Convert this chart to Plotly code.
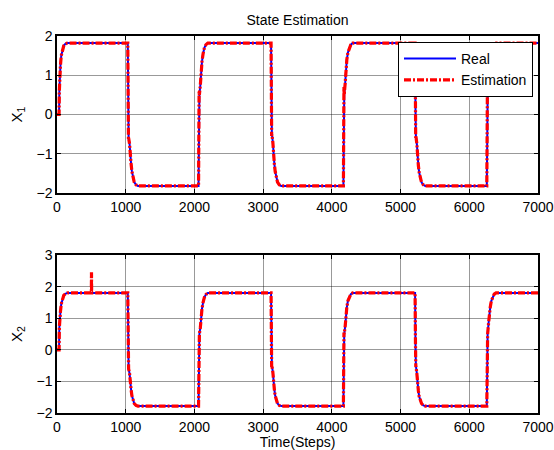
import plotly.graph_objects as go
from plotly.subplots import make_subplots

# ---------------- data ----------------
# State 1: true trajectory (time step, value)
t_x1_real = [0, 30, 34, 40, 50, 62, 78, 98, 122, 150,
             1030, 1036, 1042, 1056, 1064, 1078, 1090, 1104, 1124, 1150, 1178,
             2060, 2066, 2072, 2086, 2096, 2110, 2126, 2145, 2168, 2195,
             3115, 3121, 3127, 3141, 3149, 3163, 3175, 3189, 3209, 3235, 3263,
             4168, 4174, 4180, 4194, 4204, 4218, 4234, 4253, 4276, 4303,
             5211, 5217, 5223, 5237, 5245, 5259, 5271, 5285, 5305, 5331, 5359,
             6255, 6261, 6267, 6281, 6291, 6305, 6321, 6340, 6363, 6390,
             7000]
x1_real = [0, 0, 0.6, 1.1, 1.25, 1.5, 1.65, 1.75, 1.8, 1.82,
           1.82, 0.4, -0.6, -0.75, -1.05, -1.25, -1.45, -1.6, -1.72, -1.79, -1.82,
           -1.82, -0.2, 0.5, 0.75, 1.15, 1.35, 1.55, 1.7, 1.78, 1.82,
           1.82, 0.3, -0.5, -0.7, -1.05, -1.25, -1.45, -1.6, -1.72, -1.79, -1.82,
           -1.82, -0.1, 0.5, 0.8, 1.2, 1.4, 1.58, 1.7, 1.78, 1.82,
           1.82, 0.2, -0.55, -0.75, -1.1, -1.3, -1.48, -1.62, -1.73, -1.79, -1.82,
           -1.82, -0.1, 0.45, 0.8, 1.15, 1.35, 1.55, 1.7, 1.78, 1.82,
           1.82]

# State 1: estimated trajectory
t_x1_est = [0, 30, 34, 40, 50, 62, 78, 98, 122, 150,
            1030, 1034, 1036, 1037, 1038, 1039, 1040, 1042, 1056, 1064, 1078, 1090, 1104, 1124, 1150, 1178,
            2060, 2066, 2068, 2069, 2070, 2071, 2072, 2086, 2096, 2110, 2126, 2145, 2168, 2195,
            3115, 3121, 3123, 3124, 3125, 3126, 3127, 3141, 3149, 3163, 3175, 3189, 3209, 3235, 3263,
            4168, 4174, 4176, 4177, 4178, 4179, 4180, 4194, 4204, 4218, 4234, 4253, 4276, 4303,
            5211, 5217, 5219, 5220, 5221, 5222, 5223, 5237, 5245, 5259, 5271, 5285, 5305, 5331, 5359,
            6255, 6261, 6263, 6264, 6265, 6266, 6267, 6281, 6291, 6305, 6321, 6340, 6363, 6390,
            7000]
x1_est = [0, 0, 0.6, 1.1, 1.25, 1.5, 1.65, 1.75, 1.8, 1.82,
          1.82, 0.5, -0.3, 0.55, -0.55, 0.2, -0.65, -0.6, -0.75, -1.05, -1.25, -1.45, -1.6, -1.72, -1.79, -1.82,
          -1.82, -0.2, 0.6, 0.0, 0.55, 0.1, 0.5, 0.75, 1.15, 1.35, 1.55, 1.7, 1.78, 1.82,
          1.82, 0.3, -0.1, -0.55, -0.05, -0.5, -0.5, -0.7, -1.05, -1.25, -1.45, -1.6, -1.72, -1.79, -1.82,
          -1.82, -0.1, 0.7, 0.2, 0.65, 0.25, 0.5, 0.8, 1.2, 1.4, 1.58, 1.7, 1.78, 1.82,
          1.82, 0.2, -0.2, -0.6, -0.25, -0.55, -0.55, -0.75, -1.1, -1.3, -1.48, -1.62, -1.73, -1.79, -1.82,
          -1.82, -0.1, 0.55, 0.3, 0.5, 0.35, 0.45, 0.8, 1.15, 1.35, 1.55, 1.7, 1.78, 1.82,
          1.82]

# State 2: true trajectory
t_x2_real = [0, 30, 34, 40, 50, 62, 78, 98, 122, 150,
             1030, 1036, 1042, 1056, 1064, 1078, 1090, 1104, 1124, 1150, 1178,
             2060, 2066, 2072, 2086, 2096, 2110, 2126, 2145, 2168, 2195,
             3115, 3121, 3127, 3141, 3149, 3163, 3175, 3189, 3209, 3235, 3263,
             4168, 4174, 4180, 4194, 4204, 4218, 4234, 4253, 4276, 4303,
             5211, 5217, 5223, 5237, 5245, 5259, 5271, 5285, 5305, 5331, 5359,
             6255, 6261, 6267, 6281, 6291, 6305, 6321, 6340, 6363, 6390,
             7000]
x2_real = [0, 0, 0.7, 1.1, 1.2, 1.45, 1.62, 1.72, 1.77, 1.8,
           1.8, 0.5, -0.6, -0.75, -1.05, -1.25, -1.45, -1.6, -1.7, -1.76, -1.78,
           -1.78, -0.1, 0.5, 0.7, 1.1, 1.3, 1.5, 1.66, 1.75, 1.8,
           1.8, 0.1, -0.5, -0.7, -1.05, -1.25, -1.45, -1.6, -1.7, -1.76, -1.78,
           -1.78, 0.0, 0.5, 0.75, 1.15, 1.35, 1.55, 1.68, 1.76, 1.8,
           1.8, 0.2, -0.5, -0.75, -1.1, -1.3, -1.48, -1.6, -1.7, -1.76, -1.78,
           -1.78, 0.0, 0.5, 0.85, 1.15, 1.35, 1.55, 1.68, 1.76, 1.8,
           1.8]

# State 2: estimated trajectory (with the outlier near step 500)
t_x2_est = [0, 30, 34, 40, 50, 62, 78, 98, 122, 150,
            500, 502, 504,
            1030, 1034, 1036, 1037, 1038, 1039, 1040, 1042, 1056, 1064, 1078, 1090, 1104, 1124, 1150, 1178,
            2060, 2066, 2068, 2069, 2070, 2071, 2072, 2086, 2096, 2110, 2126, 2145, 2168, 2195,
            3115, 3121, 3123, 3124, 3125, 3126, 3127, 3141, 3149, 3163, 3175, 3189, 3209, 3235, 3263,
            4168, 4174, 4176, 4177, 4178, 4179, 4180, 4194, 4204, 4218, 4234, 4253, 4276, 4303,
            5211, 5217, 5219, 5220, 5221, 5222, 5223, 5237, 5245, 5259, 5271, 5285, 5305, 5331, 5359,
            6255, 6261, 6263, 6264, 6265, 6266, 6267, 6281, 6291, 6305, 6321, 6340, 6363, 6390,
            7000]
x2_est = [0, 0, 0.7, 1.1, 1.2, 1.45, 1.62, 1.72, 1.77, 1.8,
          1.8, 2.45, 1.8,
          1.8, 0.5, -0.3, 0.5, -0.5, 0.2, -0.6, -0.6, -0.75, -1.05, -1.25, -1.45, -1.6, -1.7, -1.76, -1.78,
          -1.78, -0.1, 0.5, -0.3, 0.45, 0.0, 0.5, 0.7, 1.1, 1.3, 1.5, 1.66, 1.75, 1.8,
          1.8, 0.1, -0.1, -0.55, 0.1, -0.5, -0.5, -0.7, -1.05, -1.25, -1.45, -1.6, -1.7, -1.76, -1.78,
          -1.78, 0.0, 0.55, 0.1, 0.5, 0.2, 0.5, 0.75, 1.15, 1.35, 1.55, 1.68, 1.76, 1.8,
          1.8, 0.2, -0.3, -0.55, -0.3, -0.55, -0.5, -0.75, -1.1, -1.3, -1.48, -1.6, -1.7, -1.76, -1.78,
          -1.78, 0.0, 0.5, 0.2, 0.45, 0.3, 0.5, 0.85, 1.15, 1.35, 1.55, 1.68, 1.76, 1.8,
          1.8]

x_ticks = [0, 1000, 2000, 3000, 4000, 5000, 6000, 7000]
y1_ticks = [-2, -1, 0, 1, 2]
y2_ticks = [-2, -1, 0, 1, 2, 3]

# ---------------- figure ----------------
FONT = "Liberation Sans, Arial, sans-serif"
W, H = 554, 450
ML, MR, MT, MB = 57, 16, 36, 37
plot_h = H - MT - MB

fig = make_subplots(rows=2, cols=1)

real_style = dict(color="#0000ff", width=2)
est_style = dict(color="#ff0000", width=3.2, dash="7px,2px,2px,2px")

fig.add_trace(go.Scatter(x=t_x1_real, y=x1_real, mode="lines", line=real_style,
                         name="Real", legendgroup="r"), row=1, col=1)
fig.add_trace(go.Scatter(x=t_x1_est, y=x1_est, mode="lines", line=est_style,
                         name="Estimation", legendgroup="e"), row=1, col=1)
fig.add_trace(go.Scatter(x=t_x2_real, y=x2_real, mode="lines", line=real_style,
                         name="Real", showlegend=False), row=2, col=1)
fig.add_trace(go.Scatter(x=t_x2_est, y=x2_est, mode="lines", line=est_style,
                         name="Estimation", showlegend=False), row=2, col=1)

top_lo = (H - MB - 193) / plot_h
bot_hi = (H - MB - 255) / plot_h

axis_common = dict(
    showline=True, linecolor="black", linewidth=1.5, mirror="ticks",
    ticks="inside", ticklen=4, tickcolor="black",
    showgrid=True, gridcolor="rgba(0,0,0,0.4)", gridwidth=1,
    zeroline=False, tickfont=dict(family=FONT, size=14, color="black"),
)

fig.update_xaxes(range=[0, 7000], tickvals=x_ticks, **axis_common)
fig.update_yaxes(**axis_common)

fig.update_layout(
    xaxis=dict(domain=[0, 1]),
    yaxis=dict(domain=[top_lo, 1], range=[-2, 2], tickvals=y1_ticks,
               title=dict(text="X<sub>1</sub>", font=dict(family=FONT, size=15, color="black"),
                          standoff=10)),
    xaxis2=dict(domain=[0, 1],
                title=dict(text="Time(Steps)", font=dict(family=FONT, size=14, color="black"),
                           standoff=9)),
    yaxis2=dict(domain=[0, bot_hi], range=[-2, 3], tickvals=y2_ticks,
                title=dict(text="X<sub>2</sub>", font=dict(family=FONT, size=15, color="black"),
                           standoff=10)),
    width=W, height=H,
    margin=dict(l=ML, r=MR, t=MT, b=MB, autoexpand=False),
    paper_bgcolor="white", plot_bgcolor="white",
    font=dict(family=FONT, size=14, color="black"),
    title=dict(text="State Estimation", x=(ML + (W - ML - MR) / 2) / W, xanchor="center",
               y=1 - 20 / H, yanchor="middle", font=dict(family=FONT, size=14, color="black")),
    legend=dict(x=(398 - ML) / (W - ML - MR), y=(H - MB - 42) / plot_h,
                xanchor="left", yanchor="top",
                bgcolor="white", bordercolor="black", borderwidth=1,
                font=dict(family=FONT, size=14, color="black"),
                tracegroupgap=0, itemwidth=52),
    showlegend=True,
)

fig.write_html("out.html")
